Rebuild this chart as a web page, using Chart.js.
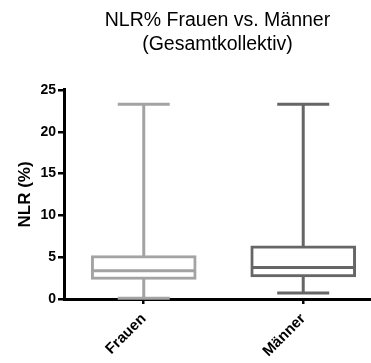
<!DOCTYPE html>
<html>
<head>
<meta charset="utf-8">
<script src="https://cdn.jsdelivr.net/npm/chart.js@4"></script>
<style>
  html, body { margin: 0; padding: 0; background: #fff; }
  #wrap { width: 371px; height: 363px; }
</style>
</head>
<body>
<div id="wrap"><canvas id="box"></canvas></div>
<script>
const groups = ['Frauen', 'Männer'];
const mins = [0.1, 0.72];
const q1s = [2.35, 2.63];
const medians = [3.39, 3.77];
const q3s = [5.18, 6.36];
const maxs = [23.3, 23.3];
const colors = ['#a3a3a3', '#666666'];
const yTicks = [0, 5, 10, 15, 20, 25];

const FONT = 'Liberation Sans, Arial, sans-serif';

// whiskers behind the boxes, caps and medians on top
const boxExtras = {
  id: 'boxExtras',
  beforeDatasetsDraw(chart) {
    const x = chart.scales.x, y = chart.scales.y, ctx = chart.ctx;
    ctx.save();
    ctx.lineWidth = 3;
    groups.forEach(function (g, i) {
      const px = x.getPixelForValue(i);
      ctx.strokeStyle = colors[i];
      ctx.beginPath();
      ctx.moveTo(px, y.getPixelForValue(maxs[i]));
      ctx.lineTo(px, y.getPixelForValue(mins[i]));
      ctx.stroke();
    });
    ctx.restore();
  },
  afterDatasetsDraw(chart) {
    const x = chart.scales.x, y = chart.scales.y, ctx = chart.ctx;
    ctx.save();
    ctx.lineWidth = 3;
    groups.forEach(function (g, i) {
      const px = x.getPixelForValue(i);
      ctx.strokeStyle = colors[i];
      ctx.beginPath();
      [mins[i], maxs[i]].forEach(function (v) {
        const py = y.getPixelForValue(v);
        ctx.moveTo(px - 26, py);
        ctx.lineTo(px + 26, py);
      });
      const pm = y.getPixelForValue(medians[i]);
      ctx.moveTo(px - 51, pm);
      ctx.lineTo(px + 51, pm);
      ctx.stroke();
    });
    ctx.restore();
  }
};

var ctx = document.getElementById('box').getContext('2d');
var chart = new Chart(ctx, {
  type: 'bar',
  data: {
    datasets: [{
      data: groups.map(function (g, i) { return { x: i, y: [q1s[i], q3s[i]] }; }),
      backgroundColor: '#ffffff',
      borderColor: colors,
      borderWidth: 3,
      borderSkipped: false,
      barThickness: 105
    }]
  },
  options: {
    responsive: true,
    maintainAspectRatio: false,
    animation: false,
    layout: { padding: 0 },
    plugins: {
      legend: { display: false },
      tooltip: { enabled: false },
      title: {
        display: true,
        fullSize: false,
        text: ['NLR% Frauen vs. Männer', '(Gesamtkollektiv)'],
        color: '#000',
        font: { family: FONT, size: 19.5, weight: 'normal', lineHeight: 1.23 },
        padding: { top: 9, bottom: 33 }
      }
    },
    scales: {
      x: {
        type: 'linear',
        offset: false,
        min: -0.5,
        max: 1.425,
        afterBuildTicks: function (s) { s.ticks = groups.map(function (g, i) { return { value: i }; }); },
        afterFit: function (s) { s.height = 64; },
        ticks: {
          callback: function (v) { return groups[v]; },
          minRotation: 45,
          maxRotation: 45,
          padding: 6,
          color: '#000',
          font: { family: FONT, size: 15, weight: 'bold' }
        },
        grid: { offset: false, drawOnChartArea: false, tickLength: 5, color: '#000', lineWidth: 2.5 },
        border: { color: '#000', width: 3 }
      },
      y: {
        min: 0,
        max: 25,
        afterBuildTicks: function (s) { s.ticks = yTicks.map(function (v) { return { value: v }; }); },
        afterFit: function (s) { s.width = 64; },
        ticks: {
          padding: 2,
          color: '#000',
          font: { family: FONT, size: 14, weight: 'bold' }
        },
        grid: { drawOnChartArea: false, tickLength: 6, color: '#000', lineWidth: 2.5 },
        border: { color: '#000', width: 3 },
        title: {
          display: true,
          text: 'NLR (%)',
          color: '#000',
          padding: { top: 15, bottom: 0 },
          font: { family: FONT, size: 17, weight: 'bold' }
        }
      }
    }
  },
  plugins: [boxExtras]
});
</script>
</body>
</html>
